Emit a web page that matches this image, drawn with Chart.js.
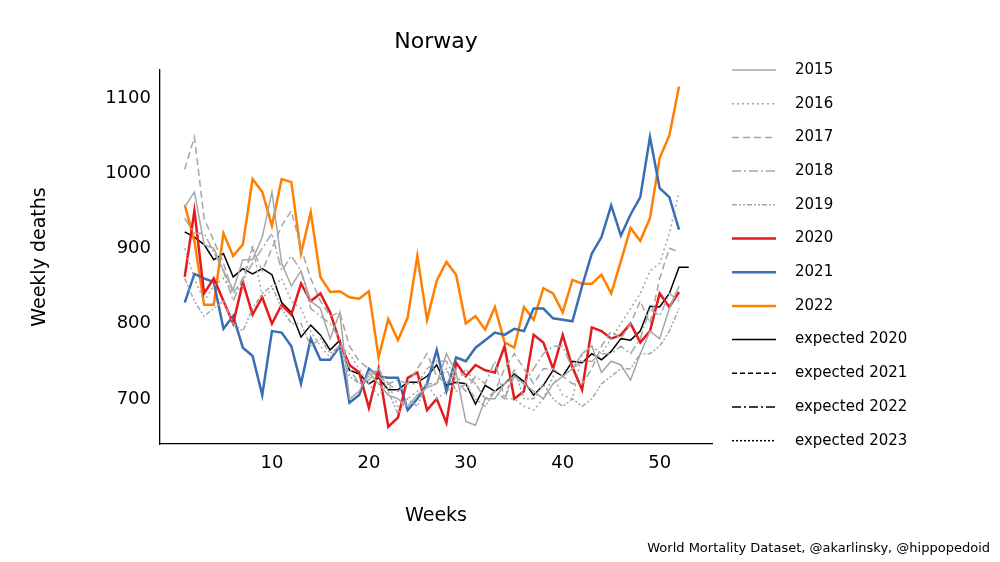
<!DOCTYPE html>
<html><head><script src="https://cdn.jsdelivr.net/npm/chart.js@4"></script>
<style>body{margin:0;background:#fff}</style></head>
<body><canvas id="c" width="1000" height="562"></canvas>
<script>
const y2015=[955,975,905,900,870,845,885,885,915,975,880,850,870,830,820,780,815,700,710,735,720,705,700,690,705,715,720,760,735,670,665,700,700,720,730,720,710,700,720,730,740,760,770,735,750,745,725,760,790,780,820,850];
const y2016=[900,860,830,850,860,840,850,905,835,845,860,830,820,790,770,755,770,760,740,720,705,720,690,700,710,720,700,710,720,740,720,700,710,700,700,690,685,700,730,705,700,760,770,760,780,800,820,840,870,880,920,975];
const y2017=[1005,1048,940,910,880,840,860,900,870,900,930,950,900,860,830,810,815,770,750,740,730,720,710,720,740,760,730,720,740,730,720,700,710,740,760,740,720,740,740,730,720,720,740,770,790,780,800,830,800,860,900,895];
const y2018=[940,920,920,895,870,830,860,880,900,920,870,890,870,820,810,800,780,740,720,725,740,720,725,720,720,740,750,750,725,710,730,720,750,700,730,720,740,760,770,770,740,750,750,760,760,770,760,780,820,810,840,830];
const y2019=[860,830,810,820,830,800,790,820,840,850,820,800,800,770,780,760,770,730,720,730,740,710,680,700,690,720,720,740,710,720,700,690,710,700,740,700,700,720,700,690,700,690,700,720,730,740,740,760,760,770,790,820];
const y2020=[862,950,840,860,830,800,855,812,835,800,825,812,853,830,840,815,775,745,735,688,740,663,675,728,735,685,700,668,748,730,745,738,735,770,700,710,785,775,740,785,742,712,795,790,780,785,800,775,790,840,822,842];
const y2021=[828,866,860,855,793,810,768,757,705,790,788,770,720,780,752,752,770,695,705,740,730,728,728,685,700,720,765,710,755,750,768,778,788,785,793,790,820,820,807,805,803,850,893,915,957,917,945,968,1048,980,968,925];
const y2022=[958,910,825,825,920,890,905,992,975,930,992,988,893,948,862,842,843,835,833,843,755,806,778,808,890,805,857,882,865,800,810,792,822,775,768,822,805,847,840,815,858,853,853,865,840,883,927,910,940,1020,1050,1115];
const expected2020=[922,915,905,885,893,862,873,866,873,865,828,815,782,798,785,765,778,738,733,720,728,712,712,722,722,730,745,718,722,720,693,718,710,720,733,723,705,718,738,730,750,748,760,752,763,780,778,790,823,822,840,875,875];
const xTicks=[10,20,30,40,50];
const yTicks=[700,800,900,1000,1100];
const legendLabels=['2015','2016','2017','2018','2019','2020','2021','2022','expected 2020','expected 2021','expected 2022','expected 2023'];
const G='#a6a6a6';
const styles=[
 {c:G,d:[],w:1.5},{c:G,d:[2,3],w:1.5},{c:G,d:[7,4],w:1.5},{c:G,d:[9,3,2,3],w:1.5},{c:G,d:[5,2,2,2,2,2],w:1.5},
 {c:'#e41a1c',d:[],w:2.5},{c:'#3a6db3',d:[],w:2.5},{c:'#ff7f00',d:[],w:2.5},
 {c:'#000',d:[],w:1.5},{c:'#000',d:[5,3],w:1.5},{c:'#000',d:[9,3,2,3],w:1.5},{c:'#000',d:[2,2],w:1.5}];
const series=[y2015,y2016,y2017,y2018,y2019,y2020,y2021,y2022];
const ds=series.map((s,i)=>({data:s.map((v,k)=>({x:k+1,y:v})),borderColor:styles[i].c,borderDash:styles[i].d,borderWidth:styles[i].w,pointRadius:0,fill:false,tension:0}));
ds.push({data:expected2020.map((v,k)=>({x:k+1,y:v})),borderColor:'#000',borderWidth:1.5,pointRadius:0,tension:0});
const F='DejaVu Sans';
const deco={id:'deco',afterDraw(ch){const x=ch.ctx;x.save();x.fillStyle='#000';
 x.font='22px '+F;x.textAlign='center';x.textBaseline='middle';x.fillText('Norway',436,42);
 x.font='19px '+F;x.fillText('Weeks',436,516);
 x.save();x.translate(40,257);x.rotate(-Math.PI/2);x.fillText('Weekly deaths',0,0);x.restore();
 x.font='13px '+F;x.textAlign='right';x.fillText('World Mortality Dataset, @akarlinsky, @hippopedoid',990,549);
 x.font='15px '+F;x.textAlign='left';
 legendLabels.forEach((l,i)=>{const yy=70+i*33.7;const s=styles[i];x.strokeStyle=s.c;x.lineWidth=i>=8?1.5:s.w;x.setLineDash(s.d);x.beginPath();x.moveTo(732,yy);x.lineTo(776,yy);x.stroke();x.setLineDash([]);x.fillText(l,795,yy);});
 x.restore();}};
new Chart(document.getElementById('c'),{type:'line',data:{datasets:ds},plugins:[deco],
options:{responsive:false,animation:false,layout:{padding:{top:70,right:288,left:0,bottom:0}},
plugins:{legend:{display:false},tooltip:{enabled:false}},
scales:{x:{type:'linear',min:-1.55,max:55.4,afterBuildTicks(a){a.ticks=xTicks.map(v=>({value:v}))},afterFit(s){s.height=118},
 grid:{display:false,drawTicks:true,tickLength:6,tickColor:'#000'},border:{color:'#000',width:1.3},ticks:{color:'#000',font:{family:F,size:18},maxRotation:0,callback:v=>String(v)}},
 y:{min:640,max:1137,afterBuildTicks(a){a.ticks=yTicks.map(v=>({value:v}))},afterFit(s){s.width=160},
 grid:{display:false,drawTicks:true,tickLength:6,tickColor:'#000'},border:{color:'#000',width:1.3},ticks:{color:'#000',font:{family:F,size:18},callback:v=>String(v)}}}}});
</script></body></html>
